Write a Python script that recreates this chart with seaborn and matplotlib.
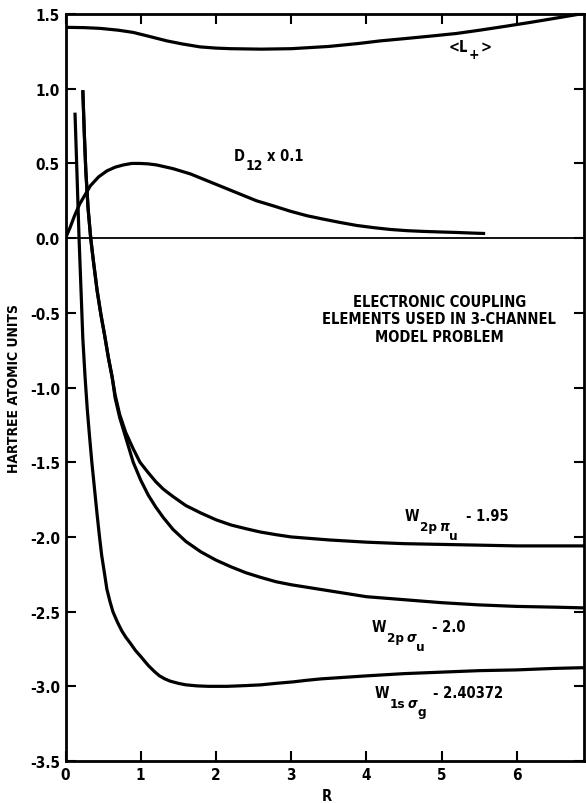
import matplotlib
matplotlib.use("Agg")
import matplotlib.pyplot as plt
import pandas as pd
import seaborn as sns

# <L+> expectation value
r_lplus = [0.0, 0.25, 0.46, 0.7, 0.9, 1.1, 1.35, 1.55, 1.79, 2.0, 2.2, 2.6, 3.0, 3.5, 3.9, 4.18,
           4.5, 4.85, 5.2, 5.51, 5.85, 6.18, 6.55, 6.9]
lplus = [1.411, 1.409, 1.404, 1.392, 1.377, 1.352, 1.32, 1.30, 1.28, 1.272, 1.268, 1.265, 1.268,
         1.283, 1.303, 1.32, 1.335, 1.352, 1.37, 1.392, 1.418, 1.444, 1.475, 1.505]

# Radial coupling D12 scaled by 0.1
r_d12 = [0.0, 0.06, 0.12, 0.19, 0.26, 0.33, 0.44, 0.55, 0.66, 0.77, 0.88, 0.99, 1.10, 1.21, 1.43,
         1.66, 1.88, 2.10, 2.32, 2.54, 2.77, 2.99, 3.21, 3.43, 3.65, 3.87, 4.10, 4.32, 4.54, 4.76,
         5.0, 5.20, 5.40, 5.58]
d12 = [0.0, 0.07, 0.15, 0.23, 0.29, 0.35, 0.41, 0.45, 0.475, 0.49, 0.50, 0.50, 0.497, 0.49, 0.465,
       0.43, 0.385, 0.34, 0.295, 0.25, 0.215, 0.18, 0.15, 0.127, 0.105, 0.085, 0.07, 0.058, 0.05,
       0.045, 0.041, 0.038, 0.034, 0.031]

# W(2p pi_u) - 1.95
r_pi = [0.23, 0.25, 0.27, 0.30, 0.335, 0.37, 0.42, 0.47, 0.52, 0.57, 0.62, 0.66, 0.72, 0.80, 0.90,
        0.99, 1.1, 1.2, 1.3, 1.43, 1.6, 1.8, 2.0, 2.2, 2.4, 2.59, 2.8, 3.0, 3.5, 4.0, 4.5, 5.0,
        5.5, 6.0, 6.9]
w_pi = [0.99, 0.70, 0.45, 0.20, 0.0, -0.15, -0.35, -0.51, -0.65, -0.80, -0.93, -1.05, -1.18, -1.30,
        -1.41, -1.50, -1.57, -1.63, -1.68, -1.73, -1.79, -1.84, -1.885, -1.92, -1.945, -1.967,
        -1.985, -2.0, -2.02, -2.035, -2.045, -2.05, -2.055, -2.06, -2.06]

# W(2p sigma_u) - 2.0
r_sig = [0.23, 0.25, 0.27, 0.30, 0.335, 0.37, 0.42, 0.47, 0.52, 0.57, 0.62, 0.66, 0.72, 0.78, 0.84,
         0.90, 1.0, 1.1, 1.2, 1.3, 1.43, 1.6, 1.8, 2.0, 2.2, 2.4, 2.59, 2.8, 3.0, 3.5, 4.0, 4.5,
         5.0, 5.5, 6.0, 6.5, 6.9]
w_sig = [0.99, 0.70, 0.45, 0.20, 0.0, -0.15, -0.35, -0.51, -0.65, -0.80, -0.93, -1.07, -1.20, -1.30,
         -1.40, -1.50, -1.62, -1.72, -1.80, -1.87, -1.95, -2.03, -2.10, -2.155, -2.20, -2.24, -2.27,
         -2.30, -2.32, -2.36, -2.40, -2.42, -2.44, -2.455, -2.465, -2.47, -2.475]

# W(1s sigma_g) - 2.40372
r_1s = [0.126, 0.15, 0.18, 0.21, 0.23, 0.26, 0.29, 0.32, 0.35, 0.39, 0.42, 0.45, 0.48, 0.52, 0.55,
        0.59, 0.63, 0.69, 0.75, 0.80, 0.86, 0.93, 1.0, 1.10, 1.18, 1.25, 1.32, 1.39, 1.5, 1.6,
        1.75, 1.9, 2.15, 2.4, 2.6, 2.8, 3.03, 3.2, 3.4, 3.7, 4.0, 4.5, 5.0, 5.5, 6.0, 6.5, 6.9]
w_1s = [0.84, 0.47, 0.0, -0.40, -0.67, -0.93, -1.15, -1.33, -1.50, -1.70, -1.85, -1.99, -2.12,
        -2.25, -2.35, -2.43, -2.50, -2.57, -2.63, -2.67, -2.71, -2.76, -2.80, -2.86, -2.90, -2.93,
        -2.95, -2.965, -2.98, -2.99, -2.997, -3.0, -3.0, -2.995, -2.99, -2.98, -2.97, -2.96, -2.95,
        -2.94, -2.93, -2.915, -2.905, -2.895, -2.89, -2.88, -2.875]

x_ticks = [0, 1, 2, 3, 4, 5, 6]
y_ticks = [1.5, 1.0, 0.5, 0.0, -0.5, -1.0, -1.5, -2.0, -2.5, -3.0, -3.5]

sns.set_style("ticks")
plt.rcParams["font.family"] = ["DejaVu Sans"]
plt.rcParams["font.stretch"] = "condensed"
plt.rcParams["font.weight"] = "bold"
plt.rcParams["axes.unicode_minus"] = False
plt.rcParams["text.color"] = "black"
plt.rcParams["axes.labelcolor"] = "black"
plt.rcParams["axes.labelweight"] = "bold"

fig = plt.figure(figsize=(5.86, 8.04), dpi=100)
ax = fig.add_axes([0.1118, 0.0522, 0.8855, 0.9291])

curves = [(r_lplus, lplus), (r_d12, d12), (r_pi, w_pi), (r_sig, w_sig), (r_1s, w_1s)]
for rr, vv in curves:
    df = pd.DataFrame({"R": rr, "v": vv})
    sns.lineplot(data=df, x="R", y="v", sort=False, estimator=None, color="black",
                 linewidth=2.3, ax=ax, solid_joinstyle="round", solid_capstyle="butt")

ax.axhline(0.0, color="black", linewidth=1.3)

ax.set_xlim(0, 6.9)
ax.set_ylim(-3.5, 1.5)
ax.set_xticks(x_ticks)
ax.set_xticklabels([str(t) for t in x_ticks])
ax.set_yticks(y_ticks)
ax.set_yticklabels([f"{t:.1f}" for t in y_ticks])
ax.tick_params(direction="in", top=True, right=True, length=7, width=1.5,
               labelsize=11, pad=4, colors="black")
for s in ax.spines.values():
    s.set_linewidth(2.0)
    s.set_color("black")

ax.set_xlabel("R", fontsize=10.5)
ax.xaxis.set_label_coords(0.504, -0.036)
ax.set_ylabel("HARTREE ATOMIC UNITS", fontsize=10)
ax.yaxis.set_label_coords(-0.086, 0.5)

renderer = fig.canvas.get_renderer()


def label_chain(x, y, parts, size=10.5):
    """Write a label as a run of pieces; each piece is (text, drop_px, scale, gap_px, style)."""
    bx, by = ax.transData.transform((x, y))
    cur_x = bx
    for text, drop, scale, gap, style in parts:
        cur_x += gap
        t = ax.text(cur_x, by - drop, text, fontsize=size * scale, ha="left", va="baseline",
                    style=style, transform=None)
        cur_x = t.get_window_extent(renderer).x1


label_chain(5.09, 1.252, [("<L", 0, 1, 0, "normal"), ("+", 7, 0.95, 1, "normal"),
                          (">", 0, 1, 1, "normal")])
label_chain(2.24, 0.523, [("D", 0, 1, 0, "normal"), ("12", 9, 0.95, 0.5, "normal"),
                          ("x 0.1", 0, 1, 4, "normal")])
label_chain(4.515, -1.887, [("W", 0, 1, 0, "normal"), ("2p", 10, 0.92, 0.5, "normal"),
                            ("π", 10, 0.95, 2, "italic"), ("u", 19, 0.92, 0, "normal"),
                            ("- 1.95", 0, 1, 8, "normal")])
label_chain(4.076, -2.63, [("W", 0, 1, 0, "normal"), ("2p", 10, 0.92, 0.5, "normal"),
                           ("σ", 10, 0.95, 2, "italic"), ("u", 19, 0.92, 0, "normal"),
                           ("- 2.0", 0, 1, 8, "normal")])
label_chain(4.116, -3.072, [("W", 0, 1, 0, "normal"), ("1s", 10, 0.92, 0.5, "normal"),
                            ("σ", 10, 0.95, 2, "italic"), ("g", 18, 0.92, 0, "normal"),
                            ("- 2.40372", 0, 1, 7, "normal")])

ax.text(4.97, -0.54, "ELECTRONIC COUPLING\nELEMENTS USED IN 3-CHANNEL\nMODEL PROBLEM",
        fontsize=10.5, ha="center", va="center", linespacing=1.2)

fig.savefig("out.png", dpi=100, facecolor="white")
